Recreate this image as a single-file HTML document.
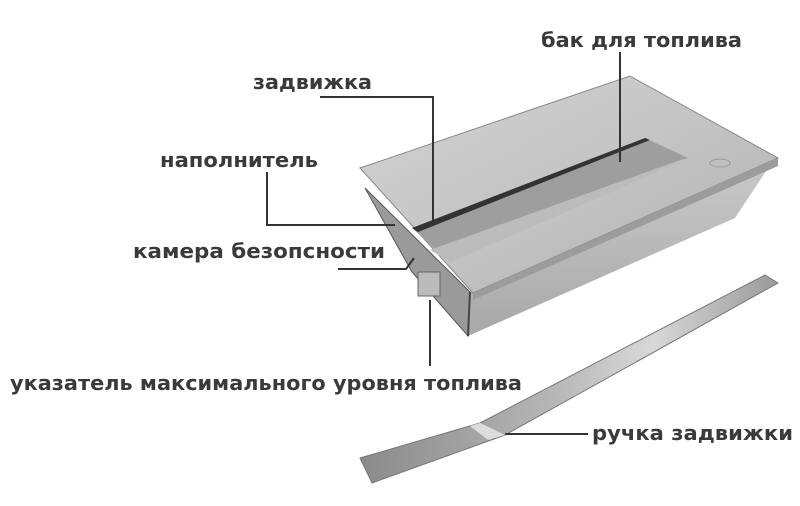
<!DOCTYPE html>
<html><head><meta charset="utf-8"><style>
html,body{margin:0;padding:0;background:#fff;}
svg{display:block}
text{font-family:"DejaVu Sans","Liberation Sans",sans-serif;font-weight:bold;fill:#3a3a3a;font-size:20px}
</style></head><body>
<svg width="800" height="506" viewBox="0 0 800 506">
<defs>
<linearGradient id="plate" x1="0" y1="0" x2="1" y2="1">
<stop offset="0" stop-color="#d4d4d4"/><stop offset="0.5" stop-color="#c4c4c4"/><stop offset="1" stop-color="#b0b0b0"/>
</linearGradient>
<linearGradient id="front" x1="0" y1="0" x2="0" y2="1">
<stop offset="0" stop-color="#c8c8c8"/><stop offset="1" stop-color="#a8a8a8"/>
</linearGradient>
<linearGradient id="handle" x1="0" y1="0" x2="1" y2="0">
<stop offset="0" stop-color="#8a8a8a"/><stop offset="0.45" stop-color="#b5b5b5"/><stop offset="0.7" stop-color="#d8d8d8"/><stop offset="1" stop-color="#9a9a9a"/>
</linearGradient>
</defs>
<polygon points="365,188 470,292 468,336 412,272" fill="#9a9a9a" stroke="#555" stroke-width="1"/>
<polygon points="470,292 768,168 735,218 468,336" fill="url(#front)"/>
<line x1="470" y1="292" x2="468" y2="336" stroke="#444" stroke-width="2"/>
<polygon points="360,168 630,76 778,158 473,293" fill="url(#plate)" stroke="#888" stroke-width="1"/>
<polygon points="473,293 778,158 778,166 473,300" fill="#9c9c9c"/>
<polygon points="412,228 645,138 688,158 450,262" fill="#9e9e9e"/>
<polygon points="412,228 645,138 650,140 418,232" fill="#333"/>
<polygon points="430,250 680,160 688,158 450,262" fill="#bcbcbc"/>
<ellipse cx="720" cy="163" rx="10" ry="4" fill="none" stroke="#999"/>
<rect x="418" y="272" width="22" height="24" fill="#bbb" stroke="#666"/>
<polygon points="765,275 778,283 505,435 372,483 360,458 480,423" fill="url(#handle)" stroke="#777" stroke-width="1"/>
<polygon points="480,423 505,435 488,440 470,426" fill="#ddd"/>
<g stroke="#333" stroke-width="2" fill="none">
<polyline points="620,52 620,162"/>
<polyline points="320,97 433,97 433,223"/>
<polyline points="267,172 267,225 395,225"/>
<polyline points="338,269 406,269 414,258"/>
<polyline points="430,300 430,366"/>
<polyline points="505,434 588,434"/>
</g>
<text x="541" y="47" textLength="201" lengthAdjust="spacingAndGlyphs">бак для топлива</text>
<text x="253" y="89" textLength="119" lengthAdjust="spacingAndGlyphs">задвижка</text>
<text x="160" y="167" textLength="158" lengthAdjust="spacingAndGlyphs">наполнитель</text>
<text x="133" y="258" textLength="252" lengthAdjust="spacingAndGlyphs">камера безопсности</text>
<text x="10" y="390" textLength="512" lengthAdjust="spacingAndGlyphs">указатель максимального уровня топлива</text>
<text x="592" y="440" textLength="201" lengthAdjust="spacingAndGlyphs">ручка задвижки</text>
</svg>
</body></html>
